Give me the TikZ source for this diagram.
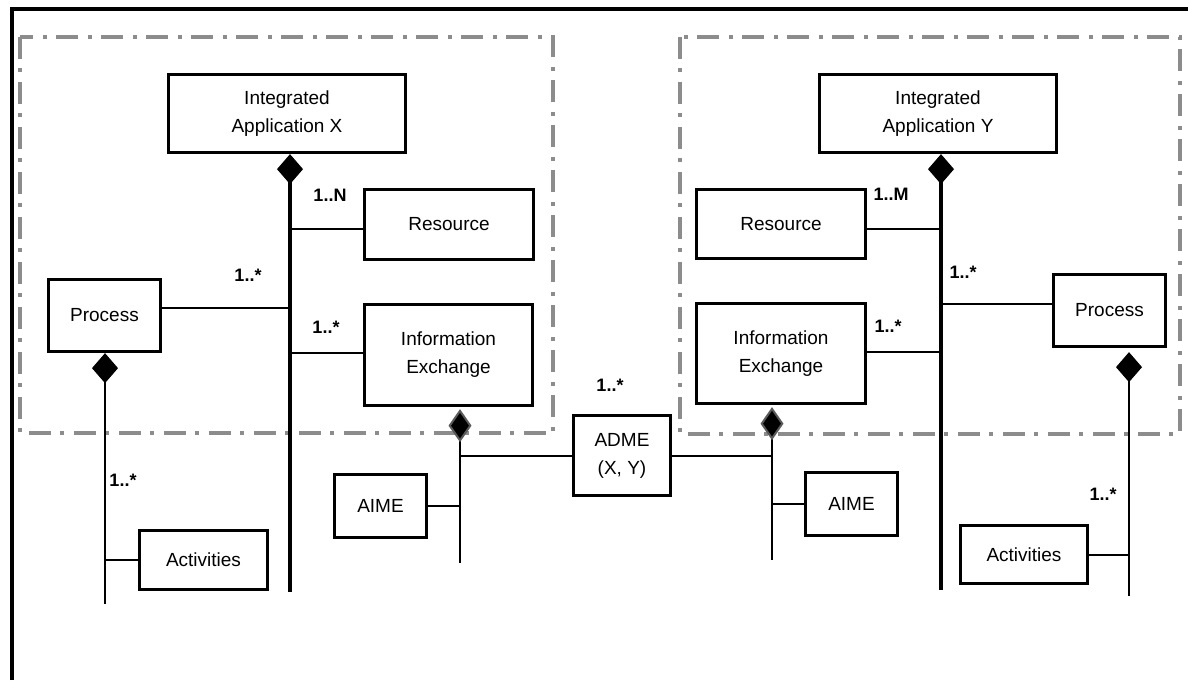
\documentclass[tikz,border=0pt]{standalone}
\usepackage{fontspec}
\setmainfont{Liberation Sans}
\usetikzlibrary{positioning,arrows.meta}
\definecolor{FrameGray}{HTML}{8C8C8C}
\definecolor{EdgeGray}{HTML}{5A5A5A}
\newcommand{\boxfont}{\fontsize{19}{28}\selectfont}
\newcommand{\multfont}{\fontsize{18}{20}\selectfont\bfseries}

\begin{document}
\begin{tikzpicture}[x=1pt,y=-1pt,
      box/.style={draw,line width=3.3pt,inner sep=0pt,align=center,font=\boxfont},
      mult/.style={inner sep=0pt,font=\multfont},
      link/.style={line width=2pt},
      trunk/.style={line width=4pt},
      branch/.style={line width=2.5pt},
      comp/.style={{Diamond[length=30pt,width=26pt,line width=1pt]}-},
      compb/.style={{Diamond[length=33pt,width=23pt,line width=2pt,color=EdgeGray,fill=black]}-},
      frame/.style={draw=FrameGray,line width=3.5pt,dash pattern=on 22pt off 9pt on 4pt off 10pt}
    ]
    \useasboundingbox (0,0) rectangle (1188,680);
    % outer border and the two application areas
    \draw[line width=4pt] (12,680) -- (12,9) -- (1190,9);
    \draw[frame] (20,37) rectangle (553,433);
    \draw[frame] (680,37) rectangle (1180,434);

    % application X
    \node[box,minimum width=237pt,minimum height=78pt] (iax) at (287,113.5) {Integrated\\Application X};
    \node[box,minimum width=169pt,minimum height=70pt] (resx) at (449,224.5) {Resource};
    \node[box,minimum width=112pt,minimum height=72pt] (procx) at (104.5,315.5) {Process};
    \node[box,minimum width=168pt,minimum height=101pt] (iex) at (448.5,355) {Information\\Exchange};
    \node[box,minimum width=128pt,minimum height=59pt] (actx) at (203.5,560) {Activities};
    \node[box,minimum width=92pt,minimum height=63pt] (aimex) at (380.5,506) {AIME};

    % application Y
    \node[box,minimum width=237pt,minimum height=78pt] (iay) at (938,113.5) {Integrated\\Application Y};
    \node[box,minimum width=169pt,minimum height=69pt] (resy) at (781,224) {Resource};
    \node[box,minimum width=112pt,minimum height=72pt] (procy) at (1109.5,310.5) {Process};
    \node[box,minimum width=169pt,minimum height=100pt] (iey) at (781,353.5) {Information\\Exchange};
    \node[box,minimum width=127pt,minimum height=58pt] (acty) at (1024,554.5) {Activities};
    \node[box,minimum width=92pt,minimum height=63pt] (aimey) at (851.5,504) {AIME};

    \node[box,minimum width=97pt,minimum height=80pt] (adme) at (622,455.5) {ADME\\(X, Y)};

    % ends of the vertical lines
    \coordinate (xend) at (290,592);
    \coordinate (pxend) at (105,604);
    \coordinate (iexend) at (460,563);
    \coordinate (yend) at (941,590);
    \coordinate (pyend) at (1129,596);
    \coordinate (ieyend) at (772,560);

    \draw[trunk,comp] (iax.south -| xend) -- (xend);
    \draw[trunk,comp] (iay.south -| yend) -- (yend);
    \draw[branch,comp] (procx.south -| pxend) -- (pxend);
    \draw[branch,comp] ([yshift=-4pt]procy.south -| pyend) -- (pyend);
    \draw[link,compb] ([yshift=-2pt]iex.south -| iexend) -- (iexend);
    \draw[link,compb] ([yshift=-2pt]iey.south -| ieyend) -- (ieyend);

    \foreach \n/\s in {resx/-4.5,iex/2} \draw[link] ([yshift=\s pt]\n.west) -- ([yshift=\s pt]\n.west -| xend);
    \draw[link] ([yshift=7.5pt]procx.east) -- ([yshift=7.5pt]procx.east -| xend);
    \foreach \n/\s in {resy/-5,iey/1.5} \draw[link] ([yshift=\s pt]\n.east) -- ([yshift=\s pt]\n.east -| yend);
    \draw[link] ([yshift=6.5pt]procy.west) -- ([yshift=6.5pt]procy.west -| yend);
    \draw[link] (actx.west) -- (actx.west -| pxend);
    \draw[link] (acty.east) -- (acty.east -| pyend);
    \draw[link] (aimex.east) -- (aimex.east -| iexend);
    \draw[link] (aimey.west) -- (aimey.west -| ieyend);
    \draw[link] (adme.west) -- (adme.west -| iexend);
    \draw[link] (adme.east) -- (adme.east -| ieyend);

    % multiplicities
    \node[mult] (mresx) at (330,195) {1..N};
    \node[mult] (mprocx) at (248,275) {1..*};
    \node[mult] (miex) at (326,327) {1..*};
    \node[mult] (mactx) at (123,480) {1..*};
    \node[mult] (madme) at (610,385) {1..*};
    \node[mult] (mresy) at (891,194) {1..M};
    \node[mult] (mprocy) at (963,272) {1..*};
    \node[mult] (miey) at (888,326) {1..*};
    \node[mult] (macty) at (1103,494) {1..*};
  \end{tikzpicture}
\end{document}
